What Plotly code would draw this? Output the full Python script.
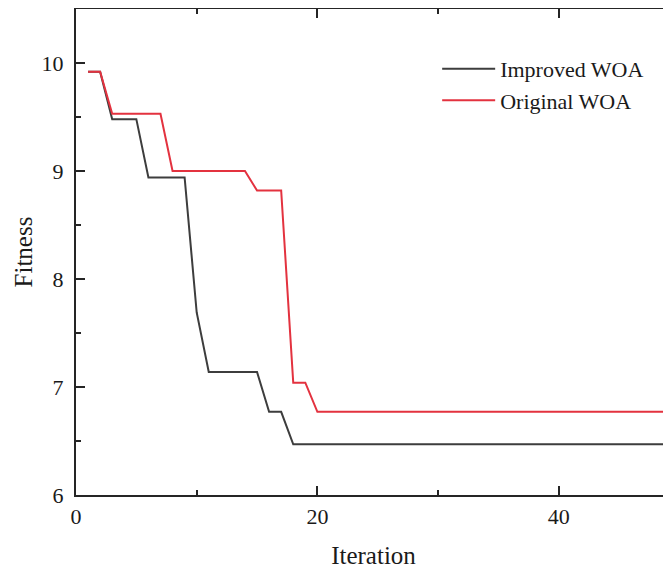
import plotly.graph_objects as go

iterations = list(range(1, 51))
improved_woa = [9.92, 9.92, 9.48, 9.48, 9.48, 8.94, 8.94, 8.94, 8.94, 7.69,
                7.14, 7.14, 7.14, 7.14, 7.14, 6.77, 6.77, 6.47, 6.47, 6.47,
                6.47, 6.47, 6.47, 6.47, 6.47, 6.47, 6.47, 6.47, 6.47, 6.47,
                6.47, 6.47, 6.47, 6.47, 6.47, 6.47, 6.47, 6.47, 6.47, 6.47,
                6.47, 6.47, 6.47, 6.47, 6.47, 6.47, 6.47, 6.47, 6.47, 6.47]
original_woa = [9.92, 9.92, 9.53, 9.53, 9.53, 9.53, 9.53, 9.00, 9.00, 9.00,
                9.00, 9.00, 9.00, 9.00, 8.82, 8.82, 8.82, 7.04, 7.04, 6.77,
                6.77, 6.77, 6.77, 6.77, 6.77, 6.77, 6.77, 6.77, 6.77, 6.77,
                6.77, 6.77, 6.77, 6.77, 6.77, 6.77, 6.77, 6.77, 6.77, 6.77,
                6.77, 6.77, 6.77, 6.77, 6.77, 6.77, 6.77, 6.77, 6.77, 6.77]
series_names = ["Improved WOA", "Original WOA"]
x_tickvals = [0, 20, 40]
y_tickvals = [6, 7, 8, 9, 10]

FONT = "Liberation Serif, Times New Roman, serif"
AX = "#252525"

fig = go.Figure()
fig.add_trace(go.Scatter(x=iterations, y=improved_woa, mode="lines", name=series_names[0],
                         line=dict(color="#3d3d3d", width=2)))
fig.add_trace(go.Scatter(x=iterations, y=original_woa, mode="lines", name=series_names[1],
                         line=dict(color="#e3323f", width=2)))

# the page body has an 8px default margin, so the figure is sized to the visible area
fig.update_layout(
    width=663, height=562,
    margin=dict(l=68, r=0, t=1, b=75),
    paper_bgcolor="white", plot_bgcolor="white",
    font=dict(family=FONT, size=22, color="#1a1a1a"),
    showlegend=True,
    legend=dict(x=0.607, y=0.92, xanchor="left", yanchor="top",
                bgcolor="rgba(0,0,0,0)", font=dict(size=22, family=FONT),
                itemwidth=53, tracegroupgap=0),
)
fig.update_xaxes(
    range=[0, 49.3], tickvals=x_tickvals, ticks="inside", ticklen=9, tickwidth=1.5,
    tickcolor=AX, showline=True, linecolor=AX, linewidth=2, mirror="ticks",
    showgrid=False, zeroline=False, ticklabelstandoff=1, automargin=False,
    minor=dict(dtick=10, tick0=0, ticks="inside", ticklen=5, tickwidth=1.5, tickcolor=AX),
    title=dict(text="Iteration", font=dict(size=25, family=FONT), standoff=18),
    tickfont=dict(size=22, family=FONT),
)
fig.update_yaxes(
    range=[6, 10.5], tickvals=y_tickvals, ticks="inside", ticklen=9, tickwidth=1.5,
    tickcolor=AX, showline=True, linecolor=AX, linewidth=2,
    showgrid=False, zeroline=False, ticklabelstandoff=6, automargin=False,
    minor=dict(dtick=0.5, tick0=6, ticks="inside", ticklen=5, tickwidth=1.5, tickcolor=AX),
    title=dict(text="Fitness", font=dict(size=25, family=FONT), standoff=2),
    tickfont=dict(size=22, family=FONT),
)

fig.write_html("out.html")
